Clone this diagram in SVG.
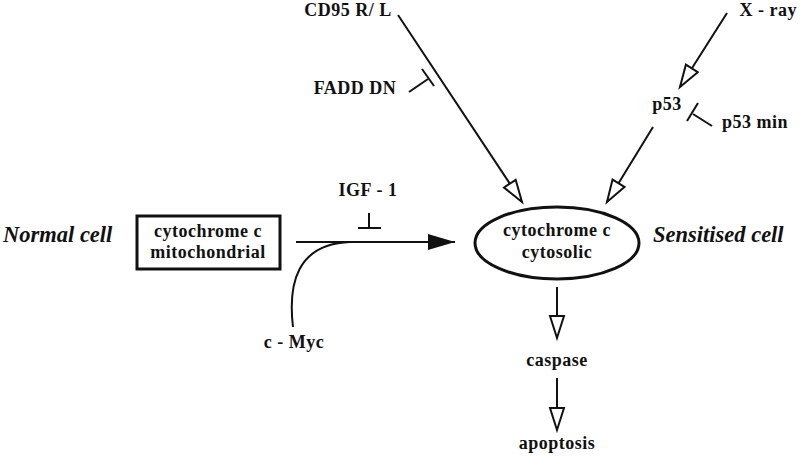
<svg xmlns="http://www.w3.org/2000/svg" width="800" height="456" viewBox="0 0 800 456">
<defs>
<style>
.t{font-family:"Liberation Serif","DejaVu Serif",serif;font-weight:bold;font-size:18px;letter-spacing:0.5px;fill:#111}
.it{font-family:"Liberation Serif","DejaVu Serif",serif;font-style:italic;font-weight:bold;font-size:22.5px;fill:#111}
.ln{stroke:#111;stroke-width:2;fill:none}
</style>
<marker id="openArrow" markerUnits="userSpaceOnUse" markerWidth="26" markerHeight="18" refX="22" refY="7" orient="auto" overflow="visible">
<path d="M0,0 L22,7 L0,14 Z" fill="#fff" stroke="#111" stroke-width="2" stroke-linejoin="miter"/>
</marker>
<marker id="fillArrow" markerUnits="userSpaceOnUse" markerWidth="30" markerHeight="18" refX="27" refY="8" orient="auto" overflow="visible">
<path d="M0,0 L27,8 L0,16 Z" fill="#111"/>
</marker>
</defs>
<rect width="800" height="456" fill="#fff"/>

<g id="connectors">
<line class="ln" x1="398" y1="15" x2="522" y2="202" marker-end="url(#openArrow)"/>
<line class="ln" x1="727" y1="13" x2="680" y2="87" marker-end="url(#openArrow)"/>
<line class="ln" x1="653" y1="127" x2="607" y2="202" marker-end="url(#openArrow)"/>
<line class="ln" x1="296" y1="242" x2="455" y2="242" marker-end="url(#fillArrow)"/>
<path class="ln" d="M293,327 C288,285 296,244 350,242"/>
<line class="ln" x1="557" y1="287" x2="557" y2="338" marker-end="url(#openArrow)"/>
<line class="ln" x1="557" y1="378" x2="557" y2="430" marker-end="url(#openArrow)"/>
<line class="ln" x1="409" y1="92" x2="428" y2="79"/>
<line class="ln" x1="422" y1="69" x2="434" y2="86"/>
<line class="ln" x1="712" y1="126" x2="693" y2="114"/>
<line class="ln" x1="687" y1="121" x2="698" y2="103"/>
<line class="ln" x1="369" y1="213" x2="369" y2="228"/>
<line class="ln" x1="358" y1="228" x2="381" y2="228"/>
</g>

<g id="cd95"><text class="t" x="348" y="16" text-anchor="middle">CD95 R/ L</text></g>
<g id="fadd"><text class="t" x="355" y="94" text-anchor="middle">FADD DN</text></g>
<g id="xray"><text class="t" x="797" y="16" text-anchor="end">X - ray</text></g>
<g id="p53"><text class="t" x="667" y="110" text-anchor="middle">p53</text></g>
<g id="p53min"><text class="t" x="755" y="128" text-anchor="middle">p53 min</text></g>
<g id="igf1"><text class="t" x="368" y="196" text-anchor="middle">IGF - 1</text></g>
<g id="cmyc"><text class="t" x="294" y="348" text-anchor="middle">c - Myc</text></g>
<g id="normal"><text class="it" x="3" y="242">Normal cell</text></g>
<g id="mito">
<rect x="137" y="216" width="143" height="53" fill="none" stroke="#111" stroke-width="3"/>
<text class="t" x="208" y="237" text-anchor="middle">cytochrome  c</text>
<text class="t" x="208" y="258" text-anchor="middle">mitochondrial</text>
</g>
<g id="cyto">
<ellipse cx="557" cy="243" rx="82" ry="36" fill="none" stroke="#111" stroke-width="3"/>
<text class="t" x="557" y="236" text-anchor="middle">cytochrome c</text>
<text class="t" x="557" y="258" text-anchor="middle">cytosolic</text>
</g>
<g id="sensitised"><text class="it" x="653" y="242">Sensitised cell</text></g>
<g id="caspase"><text class="t" x="557" y="366" text-anchor="middle">caspase</text></g>
<g id="apoptosis"><text class="t" x="557" y="449" text-anchor="middle">apoptosis</text></g>
</svg>
